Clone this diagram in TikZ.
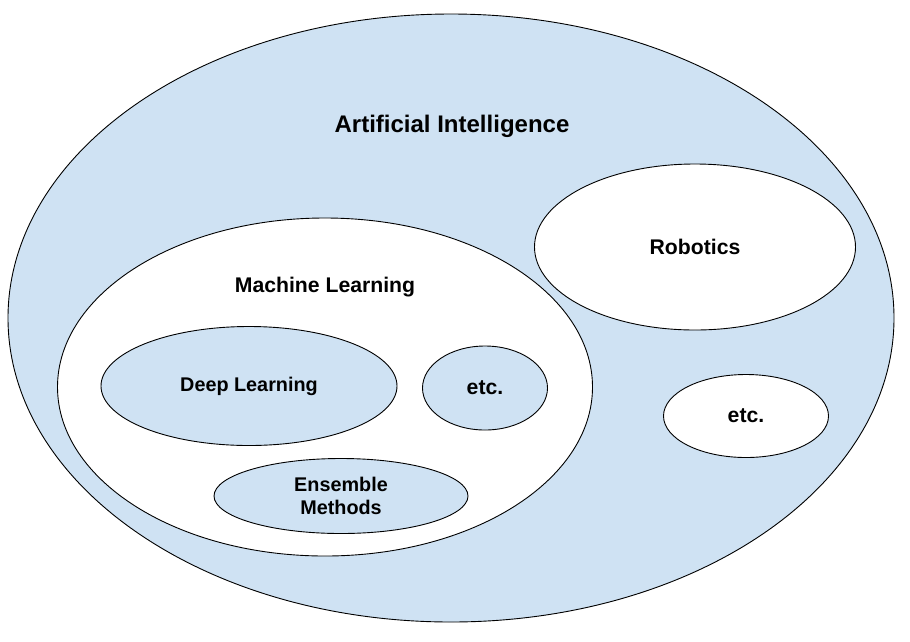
\documentclass[tikz,border=0pt]{standalone}
\usepackage{fontspec}
\setmainfont{Liberation Sans}
\usepackage{tikz}
\usetikzlibrary{shapes.geometric}
\definecolor{setblue}{HTML}{CFE2F3}
\tikzset{
    venn diagram/.style={
            x=1pt,y=-1pt,
            set/.style={ellipse,draw=black,line width=0.9pt,inner sep=0pt},
            blueset/.style={set,fill=setblue},
            whiteset/.style={set,fill=white},
            label text/.style={font=\bfseries\fontsize{21.2}{23.5}\selectfont,align=center},
            small text/.style={font=\bfseries\fontsize{19.8}{23.5}\selectfont,align=center}
        }
    }
\begin{document}
\begin{tikzpicture}[venn diagram]
        \useasboundingbox (0,0) rectangle (910,641);
        \node (AI) [blueset, minimum width=886pt, minimum height=608pt] at (451,318) {};
        \node (AItitle) [font=\bfseries\fontsize{24}{28}\selectfont] at (452,126) {Artificial Intelligence};
        \node (Rob) [whiteset, label text, minimum width=321pt, minimum height=166pt] at (695,247) {Robotics};
        \node (AIetc) [whiteset, label text, minimum width=165pt, minimum height=83pt] at (746,416) {etc.};
        \node (ML) [whiteset, minimum width=535pt, minimum height=338pt] at (325,387) {};
        \node (MLtitle) [label text] at (325,287) {Machine Learning};
        \node (DL) [blueset, small text, minimum width=296pt, minimum height=119pt] at (249,386) {Deep Learning};
        \node (MLetc) [blueset, label text, minimum width=125pt, minimum height=84pt] at (485,388) {etc.};
        \node (Ens) [blueset, small text, minimum width=254pt, minimum height=75pt] at (341,496) {Ensemble\\Methods};
    \end{tikzpicture}
\end{document}
